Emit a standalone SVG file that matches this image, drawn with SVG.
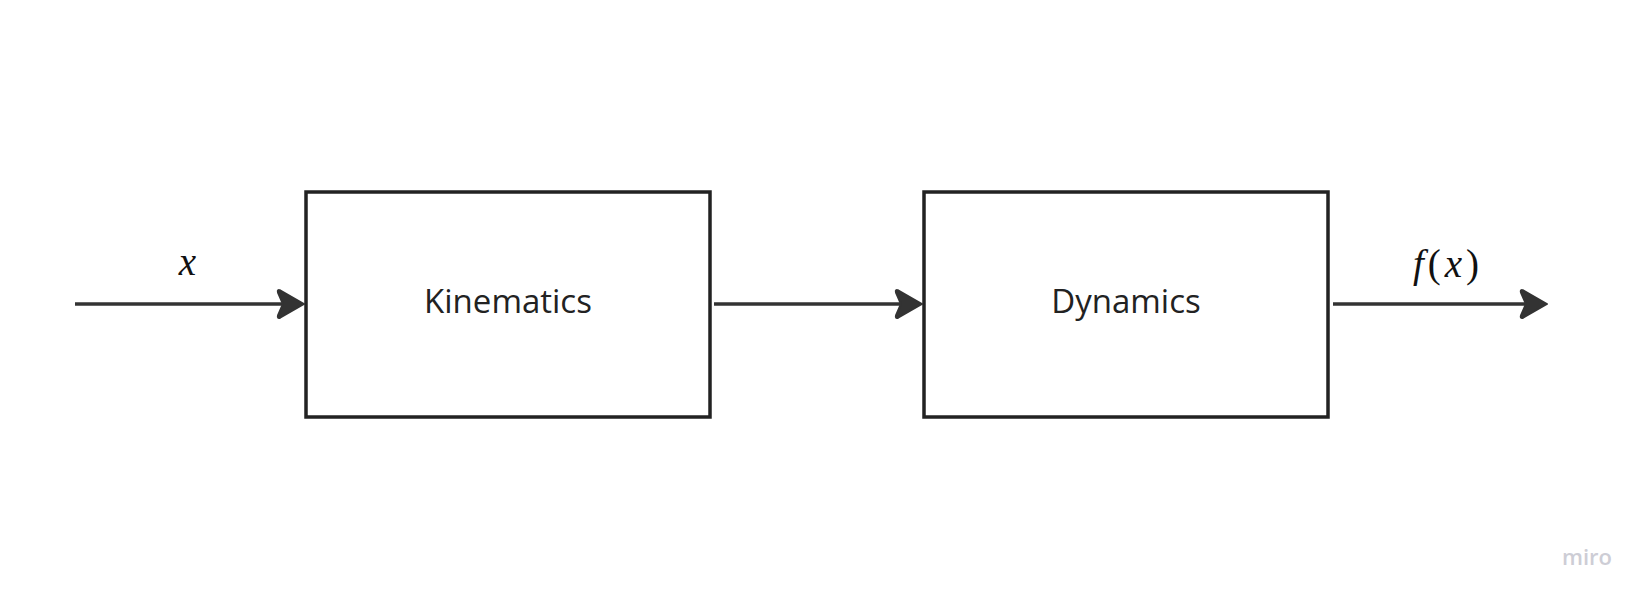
<svg xmlns="http://www.w3.org/2000/svg" xmlns:xlink="http://www.w3.org/1999/xlink" width="1652" height="605" viewBox="0 0 1652 605">
  <style>
    .box { fill: #ffffff; stroke: #222222; stroke-width: 3.5; }
    .lbl { font-family: "Open Sans", "Liberation Sans", sans-serif; font-size: 33px; fill: #222222; text-anchor: middle; }
    .wire { stroke: #333333; stroke-width: 3.5; fill: none; }
    .head { fill: #333333; stroke: #333333; stroke-width: 2; stroke-linejoin: round; }
    .math { font-family: "Liberation Serif", "DejaVu Serif", serif; font-size: 39px; fill: #111111; }
    .wm { font-family: "Open Sans", "Liberation Sans", sans-serif; font-size: 22px; font-weight: 600; fill: #cdcdd5; }
  </style>
  <defs>
    <path id="arrowhead" class="head" d="M0,0 L-23.5,-13.5 Q-27,-15 -26,-11.5 L-21,0 L-26,11.5 Q-27,15 -23.5,13.5 Z"/>
  </defs>
  <rect width="1652" height="605" fill="#ffffff"/>
  <g id="connectors">
    <line class="wire" x1="75" y1="304" x2="290" y2="304"/>
    <use xlink:href="#arrowhead" href="#arrowhead" x="304" y="304"/>
    <line class="wire" x1="714" y1="304" x2="908" y2="304"/>
    <use xlink:href="#arrowhead" href="#arrowhead" x="922" y="304"/>
    <line class="wire" x1="1333" y1="304" x2="1533" y2="304"/>
    <use xlink:href="#arrowhead" href="#arrowhead" x="1547" y="304"/>
  </g>
  <g id="label-x">
    <text class="math" x="187.5" y="275" font-style="italic" text-anchor="middle">x</text>
  </g>
  <g id="label-fx">
    <text class="math" x="1413" y="277" textLength="66" lengthAdjust="spacing"><tspan font-style="italic">f</tspan>(<tspan font-style="italic">x</tspan>)</text>
  </g>
  <g id="node-kinematics">
    <rect class="box" x="306" y="192" width="404" height="225"/>
    <text class="lbl" x="508" y="312.5">Kinematics</text>
  </g>
  <g id="node-dynamics">
    <rect class="box" x="924" y="192" width="404" height="225"/>
    <text class="lbl" x="1126" y="312.5">Dynamics</text>
  </g>
  <g id="watermark">
    <text class="wm" x="1562" y="565">miro</text>
  </g>
</svg>
